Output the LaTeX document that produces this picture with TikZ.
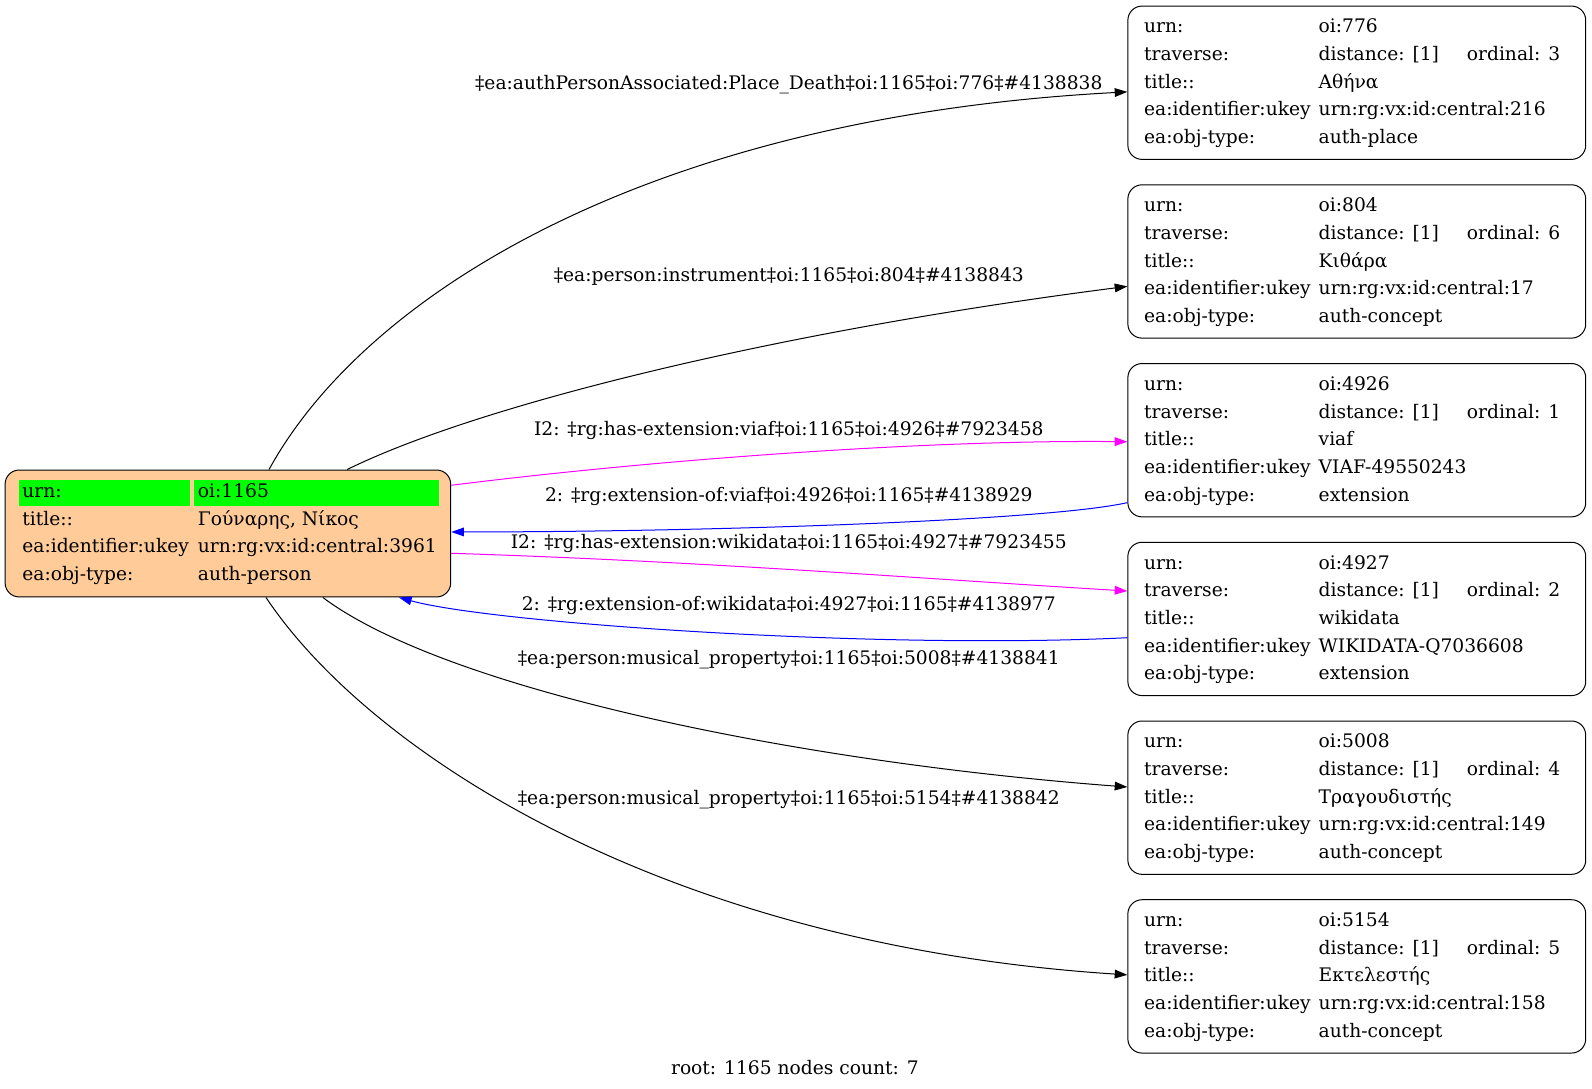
\documentclass[tikz,border=0pt]{standalone}
\usepackage{fontspec}
\setmainfont{DejaVu Serif}
\usetikzlibrary{arrows.meta, positioning, calc}
\definecolor{rootfill}{HTML}{FFCC99}
\definecolor{urngreen}{HTML}{00FF00}
\definecolor{linkmagenta}{HTML}{FF00FF}
\definecolor{linkblue}{HTML}{0000FF}

% one row of a record: three fixed columns
\newcommand{\rowtext}[3]{\strut\makebox[130.96pt][l]{#1}\makebox[111.16pt][l]{#2}\makebox[76.92pt][l]{#3}}
\newcommand{\rootrow}[2]{\strut\makebox[131.7pt][l]{#1}\makebox[176.65pt][l]{#2}}
\newcommand{\greenband}[3]{\makebox[0pt][l]{\hspace*{#1}\textcolor{urngreen}{\rule[-6.2pt]{#2}{19pt}}}#3}
\newcommand{\recordtext}[5]{%
  \rowtext{urn:}{oi:#1}{}\\
  \rowtext{traverse:}{distance: [1]}{ordinal: #2}\\
  \rowtext{title::}{#3}{}\\
  \rowtext{ea:identifier:ukey}{#4}{}\\
  \rowtext{ea:obj-type:}{#5}{}}

\begin{document}
\begin{tikzpicture}[
        x=0.7614pt, y=-0.7614pt,
        font=\fontsize{14}{20.75}\selectfont,
        >={Triangle[length=9.5pt,width=6.5pt]},
        base/.style={draw, line width=0.75pt, rounded corners=10.66pt, align=left, inner ysep=4pt},
        root/.style={base, fill=rootfill, inner xsep=12.95pt, minimum width=334.25pt, minimum height=95.2pt},
        record/.style={base, fill=white, inner xsep=12.18pt, minimum width=343.4pt, minimum height=115pt},
        elabel/.style={inner sep=0pt},
        arrow/.style={->, line width=0.75pt},
        fwd/.style={arrow, color=linkmagenta},
        back/.style={arrow, color=linkblue}
    ]
    \useasboundingbox (0,0) rectangle (1568.2,1072.7);

    % Nodes
    \node[root] (p1165) at (224.5,525.5) {%
        \rootrow{\greenband{-2.28pt}{127.9pt}{urn:}}{\greenband{-3.05pt}{183.5pt}{oi:1165}}\\
        \rootrow{title::}{Γούναρης, Νίκος}\\
        \rootrow{ea:identifier:ukey}{urn:rg:vx:id:central:3961}\\
        \rootrow{ea:obj-type:}{auth-person}};

    \node[record] (n776) at (1336.5,81.5) {\recordtext{776}{3}{Αθήνα}{urn:rg:vx:id:central:216}{auth-place}};
    \node[record, below=18.3pt of n776] (n804) {\recordtext{804}{6}{Κιθάρα}{urn:rg:vx:id:central:17}{auth-concept}};
    \node[record, below=18.3pt of n804] (n4926) {\recordtext{4926}{1}{viaf}{VIAF-49550243}{extension}};
    \node[record, below=18.3pt of n4926] (n4927) {\recordtext{4927}{2}{wikidata}{WIKIDATA-Q7036608}{extension}};
    \node[record, below=18.3pt of n4927] (n5008) {\recordtext{5008}{4}{Τραγουδιστής}{urn:rg:vx:id:central:149}{auth-concept}};
    \node[record, below=18.3pt of n5008] (n5154) {\recordtext{5154}{5}{Εκτελεστής}{urn:rg:vx:id:central:158}{auth-concept}};

    % Arrows
    \draw[arrow] ($(p1165.north)+(40.5,0)$) .. controls +(95,-173) and +(-471,25) .. ($(n776.west)+(0,9)$);
    \draw[arrow] ($(p1165.north)+(117.5,0)$) .. controls +(128,-63) and +(-350,45) .. ($(n804.west)+(0,24.5)$);
    \draw[fwd] ($(p1165.east)+(0,-47.5)$) .. controls +(200,-25) and +(-200,-2) .. ($(n4926.west)+(0,1.5)$);
    \draw[back] ($(n4926.west)+(0,61.5)$) .. controls +(-80,18) and +(250,0) .. ($(p1165.east)+(0,-1.5)$);
    \draw[fwd] ($(p1165.east)+(0,19.5)$) .. controls +(250,8) and +(-200,-12) .. ($(n4927.west)+(0,-27.5)$);
    \draw[back] ($(n4927.west)+(0,18.5)$) .. controls +(-250,12) and +(90,25) .. ($(p1165.south)+(168.5,0)$);
    \draw[arrow] ($(p1165.south)+(93.5,0)$) .. controls +(120,90) and +(-330,-25) .. ($(n5008.west)+(0,-10.5)$);
    \draw[arrow] ($(p1165.south)+(37.5,0)$) .. controls +(100,150) and +(-461,-30) .. ($(n5154.west)+(0,-1.5)$);

    % Labels
    \node[elabel] (l776) at (777,83) {‡ea:authPersonAssociated:Place\_Death‡oi:1165‡oi:776‡\#4138838};
    \node[elabel] (l804) at (777,272) {‡ea:person:instrument‡oi:1165‡oi:804‡\#4138843};
    \node[elabel] (l4926a) at (777,424) {I2: ‡rg:has-extension:viaf‡oi:1165‡oi:4926‡\#7923458};
    \node[elabel] (l4926b) at (777,489) {2: ‡rg:extension-of:viaf‡oi:4926‡oi:1165‡\#4138929};
    \node[elabel] (l4927a) at (777,535) {I2: ‡rg:has-extension:wikidata‡oi:1165‡oi:4927‡\#7923455};
    \node[elabel] (l4927b) at (777,596) {2: ‡rg:extension-of:wikidata‡oi:4927‡oi:1165‡\#4138977};
    \node[elabel] (l5008) at (777,650) {‡ea:person:musical\_property‡oi:1165‡oi:5008‡\#4138841};
    \node[elabel] (l5154) at (777,788) {‡ea:person:musical\_property‡oi:1165‡oi:5154‡\#4138842};
    \node[elabel] (footer) at (783,1052) {root: 1165 nodes count: 7};

\end{tikzpicture}
\end{document}
